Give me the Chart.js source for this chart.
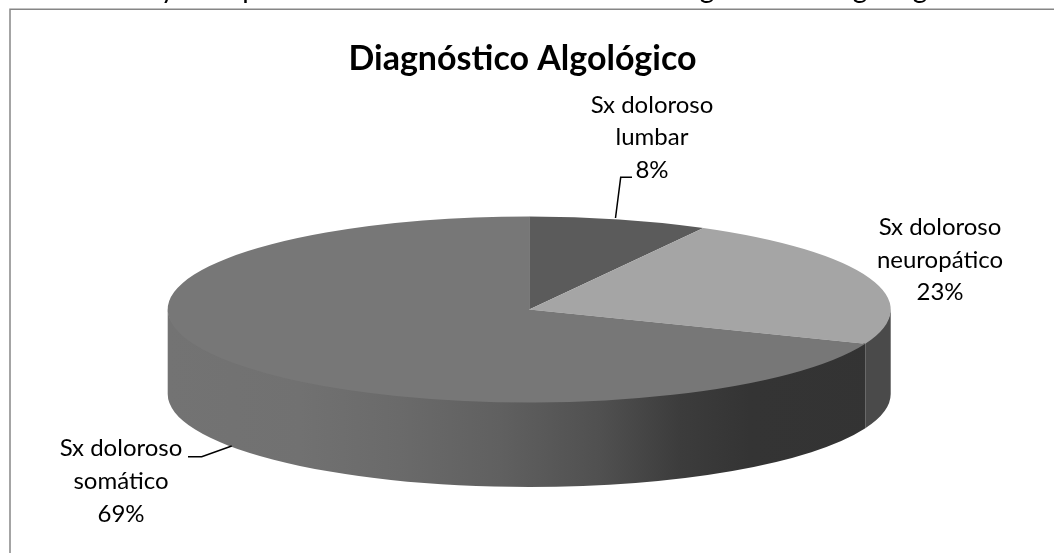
<!DOCTYPE html>
<html lang="es">
<head>
<meta charset="utf-8">
<title>Diagnóstico Algológico</title>
<script src="https://cdn.jsdelivr.net/npm/chart.js@4"></script>
<style>
    html, body { margin: 0; padding: 0; background: #fff; overflow: hidden; }
    canvas { display: block; }
</style>
</head>
<body>
<canvas id="pieChart" width="1054" height="553"></canvas>
<script>
// ======================= DATA =======================
const categories = [
    ['Sx doloroso', 'lumbar'],
    ['Sx doloroso', 'neuropático'],
    ['Sx doloroso', 'somático']
];
const percentages = [8, 23, 69];
const chartTitle = 'Diagnóstico Algológico';

// ======================= STYLE =======================
const FONT = 'Lato, "Noto Sans", sans-serif';
const topColors = ['#5b5b5b', '#a5a5a5', '#777777'];

// Ellipse of the pie's top face and height of its side wall
const pieShape = { cx: 529.2, cy: 309.5, rx: 361.5, ry: 93, depth: 84.5 };

// Label anchor per slice: line centres and optional leader line
const labelSpots = [
    { x: 652, ys: [105, 137, 170], leader: [[615.5, 218], [620.7, 177.3], [632, 177.3]] },
    { x: 940, ys: [227, 260, 292] },
    { x: 121, ys: [448, 481, 514], leader: [[188, 456.7], [201.7, 456.7], [231.7, 446]] }
];

// Tail ends of the line of text running above the frame
const clippedLetters = [['y', 168], ['p', 250], ['g', 707], ['g', 860], ['g', 920]];

// ----------------------- PLUGINS -----------------------

// Outer frame, open on the right and bottom, plus the cut-off text above it
const framePlugin = {
    id: 'frame',
    beforeDraw(chart) {
        const { ctx, width, height } = chart;
        ctx.save();
        ctx.strokeStyle = '#868686';
        ctx.lineWidth = 1.5;
        ctx.beginPath();
        ctx.moveTo(10, height);
        ctx.lineTo(10, 9.25);
        ctx.lineTo(width, 9.25);
        ctx.stroke();
        ctx.fillStyle = '#000';
        ctx.font = '28px ' + FONT;
        ctx.textAlign = 'center';
        ctx.textBaseline = 'alphabetic';
        clippedLetters.forEach(([letter, x]) => ctx.fillText(letter, x, -2));
        ctx.restore();
    }
};

// Side wall of the pie, built from the angles the arc elements were given
const wallPlugin = {
    id: 'wall',
    beforeDatasetsDraw(chart) {
        const { ctx } = chart;
        const { cx, cy, rx, ry, depth } = pieShape;
        const arcs = chart.getDatasetMeta(0).data;

        const gradient = ctx.createLinearGradient(168, 0, 891, 0);
        [[168, '#737373'], [300, '#717171'], [400, '#6a6a6a'], [500, '#606060'],
         [600, '#505050'], [680, '#3c3c3c'], [750, '#343434'], [891, '#333333']]
            .forEach(([x, color]) => gradient.addColorStop((x - 168) / 723, color));
        const wallFills = ['#3a3a3a', '#4a4a4a', gradient];

        ctx.save();
        arcs.forEach((arc, i) => {
            // only the front half of the rim is visible
            const start = Math.max(arc.startAngle, 0);
            const end = Math.min(arc.endAngle, Math.PI);
            if (end <= start) return;
            ctx.beginPath();
            // upper edge runs a little under the top face so no seam shows
            ctx.ellipse(cx, cy - 1.5, rx, ry, 0, start, end);
            ctx.ellipse(cx, cy + depth, rx, ry, 0, end, start, true);
            ctx.closePath();
            ctx.fillStyle = wallFills[i];
            ctx.fill();
        });
        ctx.restore();
    }
};

// Flattens the round pie into the ellipse of the top face
const tiltPlugin = {
    id: 'tilt',
    beforeDatasetDraw(chart) {
        const { ctx } = chart;
        const arc = chart.getDatasetMeta(0).data[0];
        ctx.save();
        ctx.translate(pieShape.cx, pieShape.cy);
        ctx.scale(pieShape.rx / arc.outerRadius, pieShape.ry / arc.outerRadius);
        ctx.translate(-arc.x, -arc.y);
    },
    afterDatasetDraw(chart) {
        chart.ctx.restore();
    }
};

// Category and percentage text with leader lines
const sliceLabelPlugin = {
    id: 'sliceLabels',
    afterDraw(chart) {
        const { ctx } = chart;
        ctx.save();
        ctx.font = '24px ' + FONT;
        ctx.fillStyle = '#000';
        ctx.textAlign = 'center';
        ctx.textBaseline = 'middle';
        chart.data.labels.forEach((lines, i) => {
            const spot = labelSpots[i];
            const text = [...lines, chart.data.datasets[0].data[i] + '%'];
            text.forEach((line, j) => ctx.fillText(line, spot.x, spot.ys[j]));
            if (spot.leader) {
                ctx.strokeStyle = '#000';
                ctx.lineWidth = 1.5;
                ctx.beginPath();
                spot.leader.forEach(([x, y], j) => j ? ctx.lineTo(x, y) : ctx.moveTo(x, y));
                ctx.stroke();
            }
        });
        ctx.restore();
    }
};

// ======================= CHART INITIALIZATION =======================
new Chart(document.getElementById('pieChart').getContext('2d'), {
    type: 'pie',
    data: {
        labels: categories,
        datasets: [{
            data: percentages,
            backgroundColor: topColors,
            borderWidth: 0,
            clip: false
        }]
    },
    options: {
        responsive: false,
        animation: false,
        radius: 200,
        layout: { padding: { right: 9, top: 39 } },
        plugins: {
            legend: { display: false },
            tooltip: { enabled: false },
            title: {
                display: true,
                text: chartTitle,
                color: '#000',
                font: { family: FONT, size: 34, weight: 'bold' },
                padding: 0
            }
        }
    },
    plugins: [framePlugin, wallPlugin, tiltPlugin, sliceLabelPlugin]
});
</script>
</body>
</html>
